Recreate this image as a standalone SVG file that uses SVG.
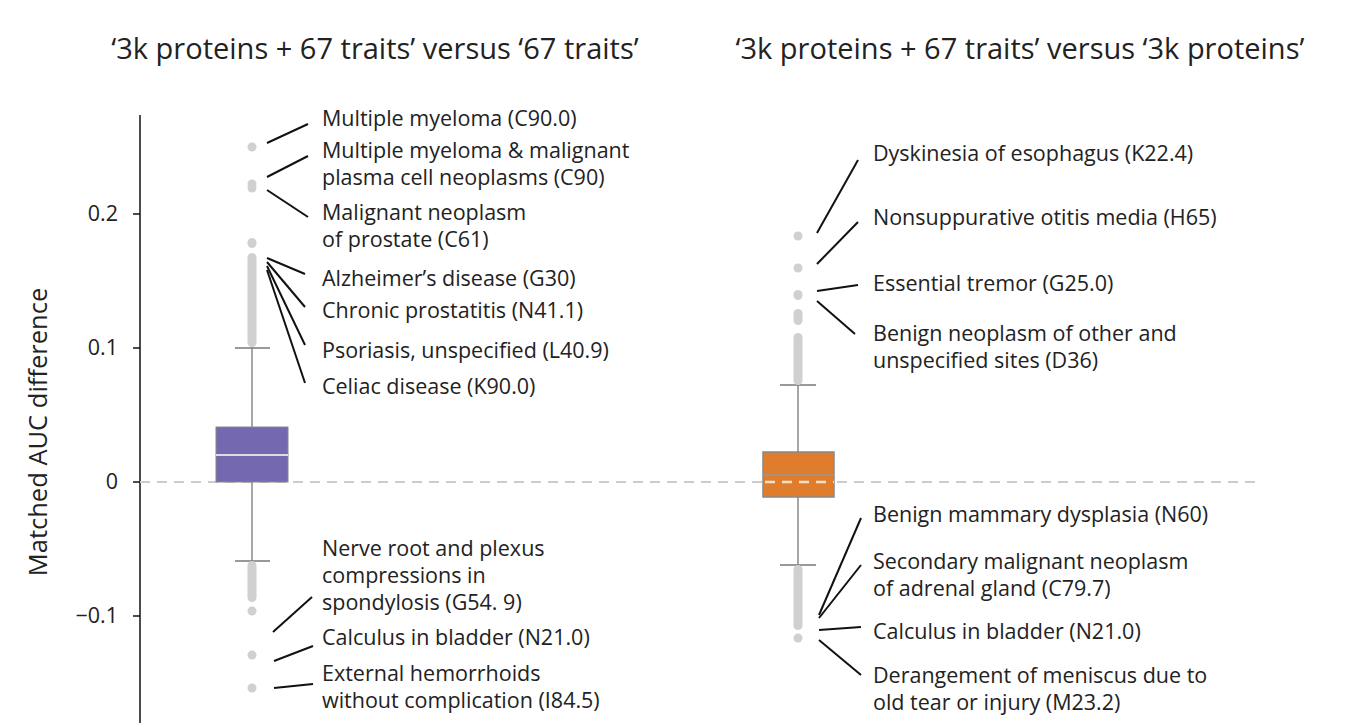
<svg xmlns="http://www.w3.org/2000/svg" width="1363" height="728" viewBox="0 0 1363 728">
<style>
text{font-family:"Open Sans","Liberation Sans",sans-serif;font-size:21.5px;fill:#222}
.t{font-size:29px}
.ld{stroke:#111;stroke-width:2;fill:none}
.dot{fill:#d0d0d0}
.w{stroke:#777;stroke-width:1.3;fill:none}
</style>
<rect width="1363" height="728" fill="#fff"/>
<text class="t" x="375" y="59" text-anchor="middle">‘3k proteins + 67 traits’ versus ‘67 traits’</text>
<text class="t" x="1020" y="59" text-anchor="middle">‘3k proteins + 67 traits’ versus ‘3k proteins’</text>
<g id="axis">
<line x1="140" y1="115" x2="140" y2="723" stroke="#111" stroke-width="1.5"/>
<g stroke="#111" stroke-width="1.5"><line x1="133" y1="214" x2="140" y2="214"/><line x1="133" y1="348" x2="140" y2="348"/><line x1="133" y1="482" x2="140" y2="482"/><line x1="133" y1="616" x2="140" y2="616"/></g>
<g text-anchor="end"><text x="118" y="221">0.2</text><text x="118" y="355">0.1</text><text x="118" y="489">0</text><text x="118" y="623">−0.1</text></g>
<text x="47" y="432" transform="rotate(-90 47 432)" text-anchor="middle" style="font-size:25.5px">Matched AUC difference</text>
<line x1="140" y1="482" x2="1255" y2="482" stroke="#ccc" stroke-width="2" stroke-dasharray="10,7"/>
</g>
<g id="box1">
<line class="w" x1="252" y1="348" x2="252" y2="427"/><line class="w" x1="235" y1="348" x2="270" y2="348"/>
<line class="w" x1="252" y1="482" x2="252" y2="561"/><line class="w" x1="235" y1="561" x2="270" y2="561"/>
<rect x="216" y="427" width="72" height="55" fill="#7469b0" stroke="#888" stroke-width="1"/>
<line x1="216" y1="455" x2="288" y2="455" stroke="#ddd" stroke-width="2"/>
<g class="dot"><circle cx="252" cy="147" r="4.5"/><circle cx="252" cy="184" r="4.5"/><circle cx="252" cy="188" r="4.5"/>
<rect x="247.5" y="238" width="9" height="10" rx="4.5"/><rect x="247.5" y="253" width="9" height="94" rx="4.5"/>
<rect x="247.5" y="561" width="9" height="41" rx="4.5"/><circle cx="252" cy="611" r="4.5"/><circle cx="252" cy="655" r="4.5"/><circle cx="252" cy="688" r="4.5"/></g>
</g>
<g id="box2">
<line class="w" x1="798" y1="385" x2="798" y2="452"/><line class="w" x1="780" y1="385" x2="816" y2="385"/>
<line class="w" x1="798" y1="497" x2="798" y2="565"/><line class="w" x1="780" y1="565" x2="816" y2="565"/>
<rect x="763" y="452" width="71" height="45" fill="#e07d2c" stroke="#888" stroke-width="1.5"/>
<line x1="763" y1="475" x2="834" y2="475" stroke="#999" stroke-width="1.5"/>
<line x1="765" y1="482" x2="834" y2="482" stroke="#f3e0cc" stroke-width="2.5" stroke-dasharray="10,7"/>
<g class="dot"><circle cx="798" cy="236" r="4.5"/><circle cx="798" cy="268" r="4.5"/><rect x="793.5" y="290" width="9" height="10" rx="4.5"/><rect x="793.5" y="309" width="9" height="16" rx="4.5"/><rect x="793.5" y="333" width="9" height="52" rx="4.5"/>
<rect x="793.5" y="565" width="9" height="65" rx="4.5"/><circle cx="798" cy="638" r="4.5"/></g>
</g>
<g id="connectors">
<line class="ld" x1="267" y1="143" x2="308" y2="124"/>
<line class="ld" x1="267" y1="177" x2="308" y2="156"/>
<line class="ld" x1="267" y1="190" x2="308" y2="217"/>
<line class="ld" x1="267" y1="258" x2="305" y2="274"/>
<line class="ld" x1="267" y1="262" x2="305" y2="307"/>
<line class="ld" x1="267" y1="266" x2="305" y2="345"/>
<line class="ld" x1="267" y1="270" x2="305" y2="383"/>
<line class="ld" x1="273" y1="632" x2="312" y2="597"/>
<line class="ld" x1="274" y1="661" x2="313" y2="646"/>
<line class="ld" x1="274" y1="688" x2="313" y2="684"/>
<line class="ld" x1="817" y1="233" x2="858" y2="160"/>
<line class="ld" x1="817" y1="264" x2="858" y2="222"/>
<line class="ld" x1="817" y1="291" x2="858" y2="285"/>
<line class="ld" x1="817" y1="301" x2="855" y2="334"/>
<line class="ld" x1="819" y1="615" x2="861" y2="518"/>
<line class="ld" x1="819" y1="618" x2="861" y2="565"/>
<line class="ld" x1="819" y1="630" x2="861" y2="627"/>
<line class="ld" x1="819" y1="640" x2="861" y2="675"/>
</g>
<g id="labels1">
<text x="322" y="126">Multiple myeloma (C90.0)</text>
<text x="322" y="158">Multiple myeloma &amp; malignant</text><text x="322" y="185">plasma cell neoplasms (C90)</text>
<text x="322" y="220">Malignant neoplasm</text><text x="322" y="247">of prostate (C61)</text>
<text x="322" y="286">Alzheimer’s disease (G30)</text>
<text x="322" y="318">Chronic prostatitis (N41.1)</text>
<text x="322" y="358">Psoriasis, unspecified (L40.9)</text>
<text x="322" y="394">Celiac disease (K90.0)</text>
<text x="322" y="556">Nerve root and plexus</text><text x="322" y="583">compressions in</text><text x="322" y="610">spondylosis (G54. 9)</text>
<text x="322" y="645">Calculus in bladder (N21.0)</text>
<text x="322" y="681">External hemorrhoids</text><text x="322" y="708">without complication (I84.5)</text>
</g>
<g id="labels2">
<text x="873" y="161">Dyskinesia of esophagus (K22.4)</text>
<text x="873" y="225">Nonsuppurative otitis media (H65)</text>
<text x="873" y="291">Essential tremor (G25.0)</text>
<text x="873" y="341">Benign neoplasm of other and</text><text x="873" y="368">unspecified sites (D36)</text>
<text x="873" y="522">Benign mammary dysplasia (N60)</text>
<text x="873" y="569">Secondary malignant neoplasm</text><text x="873" y="596">of adrenal gland (C79.7)</text>
<text x="873" y="639">Calculus in bladder (N21.0)</text>
<text x="873" y="683">Derangement of meniscus due to</text><text x="873" y="710">old tear or injury (M23.2)</text>
</g>
</svg>
